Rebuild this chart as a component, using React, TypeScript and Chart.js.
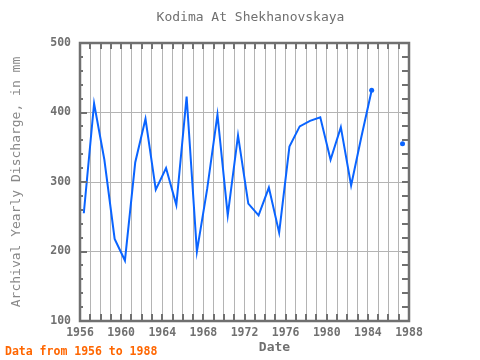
import React, { useEffect, useRef } from "react";
import { Chart, registerables } from "chart.js";

Chart.register(...registerables);

// ---- Data ----
const YEARS = [
  1956, 1957, 1958, 1959, 1960, 1961, 1962, 1963, 1964, 1965, 1966, 1967, 1968, 1969, 1970, 1971,
  1972, 1973, 1974, 1975, 1976, 1977, 1978, 1979, 1980, 1981, 1982, 1983, 1984, 1985, 1986, 1987,
];
const DISCHARGE: (number | null)[] = [
  255, 413, 332, 218, 187, 328, 391, 289, 320, 267, 423, 200, 290, 397, 252, 367,
  269, 252, 292, 227, 351, 380, 388, 393, 332, 379, 295, 365, 432, null, null, 355,
];
// observations are dated in mid-May of each year
const DATE_OFFSET = 0.37;
const X_TICK_LABELS = [1956, 1960, 1964, 1968, 1972, 1976, 1980, 1984, 1988];
const Y_TICK_LABELS = [100, 200, 300, 400, 500];

const TITLE = "Kodima At Shekhanovskaya";
const Y_TITLE = "Archival Yearly Discharge, in mm";
const X_TITLE = "Date";
const FOOTER = "Data from 1956 to 1988";

// ---- Style ----
const MONO = "'DejaVu Sans Mono', 'Liberation Mono', monospace";
const FRAME = "#707070";
const GRID = "#b4b4b4";
const LINE = "#0a64ff";
const TEXT = "#707070";

const X_MIN = X_TICK_LABELS[0];
const X_MAX = X_TICK_LABELS[X_TICK_LABELS.length - 1];
const Y_MIN = Y_TICK_LABELS[0];
const Y_MAX = Y_TICK_LABELS[Y_TICK_LABELS.length - 1];

const decor = {
  id: "decor",
  afterDraw(chart: any) {
    const { ctx, chartArea: a, scales } = chart;
    const xs = scales.x;
    const ys = scales.y;
    ctx.save();
    ctx.strokeStyle = FRAME;
    ctx.lineWidth = 2;
    ctx.beginPath();
    for (let yr = X_MIN; yr <= X_MAX; yr++) {
      const px = Math.round(xs.getPixelForValue(yr));
      ctx.moveTo(px, a.top);
      ctx.lineTo(px, a.top + 6);
      ctx.moveTo(px, a.bottom);
      ctx.lineTo(px, a.bottom - 7);
    }
    for (let v = Y_MIN; v <= Y_MAX; v += 20) {
      const py = Math.round(ys.getPixelForValue(v));
      const len = v % 100 === 0 ? 7 : 3;
      ctx.moveTo(a.left, py);
      ctx.lineTo(a.left + len, py);
      ctx.moveTo(a.right, py);
      ctx.lineTo(a.right - 7, py);
    }
    ctx.stroke();
    ctx.lineWidth = 2.5;
    ctx.strokeRect(a.left, a.top, a.right - a.left, a.bottom - a.top);

    // texts
    ctx.textAlign = "center";
    ctx.textBaseline = "middle";
    ctx.fillStyle = TEXT;
    ctx.font = `13px ${MONO}`;
    ctx.fillText(TITLE, (a.left + a.right) / 2 + 6, 18);

    ctx.font = `bold 13px ${MONO}`;
    ctx.fillText(X_TITLE, (a.left + a.right) / 2 + 30, 348);

    ctx.save();
    ctx.translate(17, (a.top + a.bottom) / 2);
    ctx.rotate(-Math.PI / 2);
    ctx.fillStyle = "#888888";
    ctx.font = `13px ${MONO}`;
    ctx.fillText(Y_TITLE, 0, 0);
    ctx.restore();

    ctx.textAlign = "left";
    ctx.fillStyle = "#ff6600";
    ctx.font = `bold 11.5px ${MONO}`;
    ctx.fillText(FOOTER, 5, 352);
    ctx.restore();
  },
};

export default function App() {
  const ref = useRef<HTMLCanvasElement>(null);

  useEffect(() => {
    if (!ref.current) return;
    const points = YEARS.map((yr, i) => ({ x: yr + DATE_OFFSET, y: DISCHARGE[i] }));
    const n = DISCHARGE.length;
    const isEnd = (i: number) => {
      if (DISCHARGE[i] == null) return false;
      const nextNull = i + 1 < n && DISCHARGE[i + 1] == null;
      const prevNull = i > 0 && DISCHARGE[i - 1] == null;
      const isolated = prevNull && (i + 1 >= n || DISCHARGE[i + 1] == null);
      return nextNull || isolated;
    };
    const chart = new Chart(ref.current, {
      type: "line",
      data: {
        datasets: [
          {
            data: points as any,
            borderColor: LINE,
            backgroundColor: LINE,
            borderWidth: 2,
            tension: 0,
            spanGaps: false,
            pointRadius: (c: any) => (isEnd(c.dataIndex) ? 2.5 : 0),
            pointBorderWidth: 0,
          },
        ],
      },
      options: {
        responsive: false,
        animation: false,
        devicePixelRatio: 1,
        layout: { padding: { top: 43, right: 71, left: 0, bottom: 0 } },
        plugins: { legend: { display: false }, tooltip: { enabled: false }, title: { display: false } },
        scales: {
          x: {
            type: "linear",
            min: X_MIN,
            max: X_MAX,
            afterFit: (s: any) => {
              s.height = 39;
            },
            afterBuildTicks: (s: any) => {
              const t = [];
              for (let yr = X_MIN; yr <= X_MAX; yr++) t.push({ value: yr });
              s.ticks = t;
            },
            ticks: {
              autoSkip: false,
              maxRotation: 0,
              padding: 5,
              color: TEXT,
              font: { family: MONO, size: 11.5, weight: "bold" },
              callback: (v: any) => (X_TICK_LABELS.includes(Number(v)) ? String(v) : ""),
            },
            grid: { color: GRID, lineWidth: 1, drawTicks: false },
            border: { display: false },
          },
          y: {
            type: "linear",
            min: Y_MIN,
            max: Y_MAX,
            afterFit: (s: any) => {
              s.width = 80;
            },
            afterBuildTicks: (s: any) => {
              s.ticks = Y_TICK_LABELS.map((v) => ({ value: v }));
            },
            ticks: {
              padding: 9,
              color: TEXT,
              font: { family: MONO, size: 11.5, weight: "bold" },
              callback: (v: any) => String(v),
            },
            grid: { color: GRID, lineWidth: 1, drawTicks: false },
            border: { display: false },
          },
        },
      },
      plugins: [decor],
    } as any);
    return () => chart.destroy();
  }, []);

  return (
    <div style={{ position: "absolute", left: 0, top: 0, width: 480, height: 360, background: "#fff" }}>
      <canvas ref={ref} width={480} height={360} />
    </div>
  );
}
